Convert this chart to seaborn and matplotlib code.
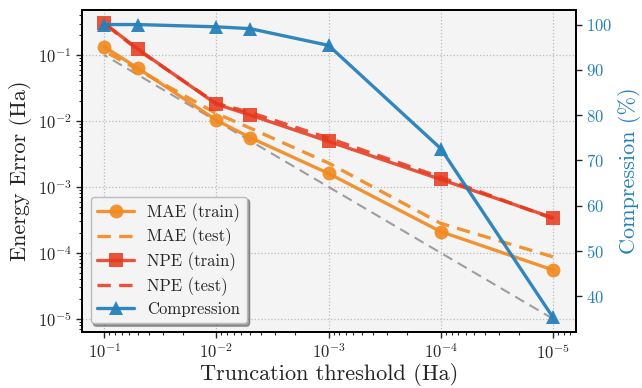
import numpy as np
import pandas as pd
import matplotlib
matplotlib.use("Agg")
import matplotlib.pyplot as plt
import seaborn as sns
from matplotlib.lines import Line2D

thresholds = [1e-1, 5e-2, 1e-2, 5e-3, 1e-3, 1e-4, 1e-5]
mae_train = [0.134, 0.063, 0.0103, 0.0056, 0.0016, 2.1e-4, 5.5e-5]
mae_test = [0.115, 0.060, 0.0130, 0.0078, 0.0023, 2.8e-4, 8.7e-5]
npe_train = [0.305, 0.123, 0.018, 0.0123, 0.0049, 0.0013, 3.4e-4]
npe_test = [0.300, 0.120, 0.0185, 0.0135, 0.0055, 0.0014, 3.3e-4]
compression = [100.0, 100.0, 99.5, 99.1, 95.4, 72.6, 35.3]
ref_x = [1e-1, 1e-5]

C_ORANGE = "#F0891F"
C_RED = "#E5371B"
C_BLUE = "#2681B9"

sns.set_style("ticks")
plt.rcParams.update({
    "font.family": ["cmr10", "DejaVu Serif"],
    "mathtext.fontset": "cm",
    "axes.formatter.use_mathtext": True,
    "axes.unicode_minus": False,
    "xtick.direction": "out",
    "ytick.direction": "out",
})

fig, ax = plt.subplots(figsize=(6.42, 3.88), dpi=100)
fig.subplots_adjust(left=0.128, right=0.897, top=0.974, bottom=0.145)
ax.set_facecolor("#F4F4F4")
ax.set_xscale("log")
ax.set_yscale("log")

df = pd.DataFrame({"t": thresholds, "mae_train": mae_train, "mae_test": mae_test,
                   "npe_train": npe_train, "npe_test": npe_test, "comp": compression})

sns.lineplot(x=ref_x, y=ref_x, ax=ax, color="#9E9E9E", lw=1.5, ls=(0, (5, 3)), zorder=1)
sns.lineplot(data=df, x="t", y="mae_train", ax=ax, color=C_ORANGE, lw=2.4, marker="o",
             markersize=10, markeredgewidth=0, alpha=0.9, zorder=3)
sns.lineplot(data=df, x="t", y="mae_test", ax=ax, color=C_ORANGE, lw=2.4, ls=(0, (4, 2.5)),
             alpha=0.9, zorder=3)
sns.lineplot(data=df, x="t", y="npe_train", ax=ax, color=C_RED, lw=2.4, marker="s",
             markersize=10, markeredgewidth=0, alpha=0.85, zorder=3)
sns.lineplot(data=df, x="t", y="npe_test", ax=ax, color=C_RED, lw=2.4, ls=(0, (4, 2.5)),
             alpha=0.85, zorder=3)

ax.set_xlim(10 ** -0.804, 10 ** -5.205)
ax.set_ylim(10 ** -5.197, 10 ** -0.318)
ax.grid(True, which="major", ls=":", color="#BBBBBB", lw=0.9)
ax.set_xlabel("Truncation threshold (Ha)", fontsize=16, labelpad=1)
ax.set_ylabel("Energy Error (Ha)", fontsize=16)
ax.tick_params(axis="both", which="major", labelsize=12, length=4, width=1)
ax.tick_params(axis="both", which="minor", length=2.5, width=0.8)
for s in ax.spines.values():
    s.set_linewidth(1.3)
    s.set_color("black")

ax2 = ax.twinx()
sns.lineplot(data=df, x="t", y="comp", ax=ax2, color=C_BLUE, lw=2.4, marker="^",
             markersize=10, markeredgewidth=0, alpha=0.95, zorder=4)
ax2.set_ylim(32.1, 103.2)
ax2.set_yticks([40, 50, 60, 70, 80, 90, 100])
ax2.set_ylabel("Compression (%)", fontsize=16, color=C_BLUE)
ax2.tick_params(axis="y", labelsize=12, labelcolor=C_BLUE, length=4, width=1)
for s in ax2.spines.values():
    s.set_linewidth(1.3)
    s.set_color("black")

handles = [
    Line2D([], [], color=C_ORANGE, lw=2.4, marker="o", markersize=10, markeredgewidth=0, alpha=0.9),
    Line2D([], [], color=C_ORANGE, lw=2.4, ls=(0, (4, 2.5)), alpha=0.9),
    Line2D([], [], color=C_RED, lw=2.4, marker="s", markersize=10, markeredgewidth=0, alpha=0.85),
    Line2D([], [], color=C_RED, lw=2.4, ls=(0, (4, 2.5)), alpha=0.85),
    Line2D([], [], color=C_BLUE, lw=2.4, marker="^", markersize=10, markeredgewidth=0, alpha=0.95),
]
labels = ["MAE (train)", "MAE (test)", "NPE (train)", "NPE (test)", "Compression"]
leg = ax2.legend(handles, labels, loc="lower left", fontsize=12, frameon=True, fancybox=True,
                 shadow=True, framealpha=1.0, edgecolor="#BBBBBB", facecolor="#F4F4F4",
                 handlelength=2.2, borderpad=0.4, labelspacing=0.35)
leg.set_zorder(10)

fig.savefig("out.png", dpi=100)
